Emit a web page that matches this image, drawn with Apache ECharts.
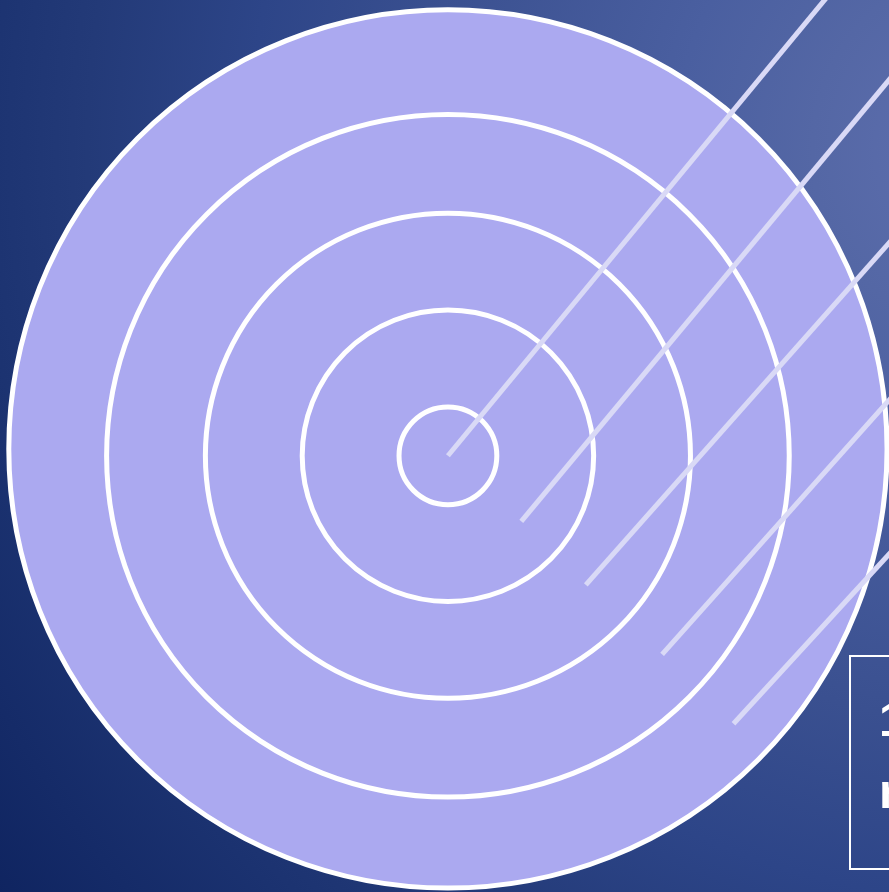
<!DOCTYPE html>
<html>
<head>
<meta charset="utf-8">
<style>
    html, body { margin: 0; padding: 0; }
    #box1 { width: 889px; height: 892px; }
</style>
<script src="https://cdn.jsdelivr.net/npm/echarts@6/dist/echarts.min.js"></script>
</head>
<body>
<div id="box1"></div>
<script>
// ▼ring radii, in units of one ring step (outer first so inner ones paint on top)
const ringRadii = [4.49, 3.49, 2.48, 1.49, 0.5];
// ▼ring centre y (the outer ring sits a little higher)
const ringCenterY = [0.07, 0, 0, 0, 0];
// ▼rays: start point and far point (past the picture edge, clipped)
const rayStarts = [[0, 0], [0.75, -0.67], [1.41, -1.32], [2.19, -2.03], [2.92, -2.74]];
const rayEnds = [[4.0, 4.84], [4.7, 4.07], [4.7, 2.39], [4.7, 0.78], [4.7, -0.8]];
// ▼box text (cut off at the right edge)
const boxLines = ['1', 'n'];

const myChart = echarts.init(document.getElementById('box1'));

const option = {
    animation: false,
    backgroundColor: new echarts.graphic.RadialGradient(1000, 150, 1250, [
        { offset: 0, color: '#6070b0' },
        { offset: 0.15, color: '#5467a5' },
        { offset: 0.26, color: '#4a5fa0' },
        { offset: 0.46, color: '#3a5090' },
        { offset: 0.6, color: '#2d4588' },
        { offset: 0.73, color: '#233a78' },
        { offset: 0.83, color: '#1b3270' },
        { offset: 1, color: '#0f2460' },
    ], true),
    grid: { left: 0, right: 0, top: 0, bottom: 0 },
    xAxis: { type: 'value', min: -4.58, max: 4.51, show: false },
    yAxis: { type: 'value', min: -4.46, max: 4.66, show: false },
    series: [
        {
            type: 'custom',
            clip: true,
            data: ringRadii.map((r, i) => [0, ringCenterY[i], r]),
            encode: { x: 0, y: 1 },
            renderItem(params, api){
                const c = api.coord([api.value(0), api.value(1)]);
                const r = api.size([api.value(2), 0])[0];
                return {
                    type: 'circle',
                    shape: { cx: c[0], cy: c[1], r },
                    style: { fill: '#aba9f0', stroke: '#ffffff', lineWidth: 5 },
                };
            },
            z: 1,
        },
        {
            type: 'lines',
            coordinateSystem: 'cartesian2d',
            clip: true,
            data: rayStarts.map((s, i) => ({ coords: [s, rayEnds[i]] })),
            lineStyle: { color: '#d9d9f6', width: 5, opacity: 1, curveness: 0 },
            z: 3,
        },
    ],
    graphic: [
        {
            type: 'rect',
            left: 849, top: 655,
            shape: { width: 60, height: 213 },
            style: { fill: 'transparent', stroke: '#ffffff', lineWidth: 2 },
            z: 10,
        },
        ...boxLines.map((t, i) => ({
            type: 'text',
            left: 879, top: 699 + i * 72,
            style: {
                text: t,
                fill: '#ffffff',
                font: 'bold 48px "Liberation Sans", Arial, sans-serif',
            },
            z: 11,
        })),
    ],
};
myChart.setOption(option);
</script>
</body>
</html>
